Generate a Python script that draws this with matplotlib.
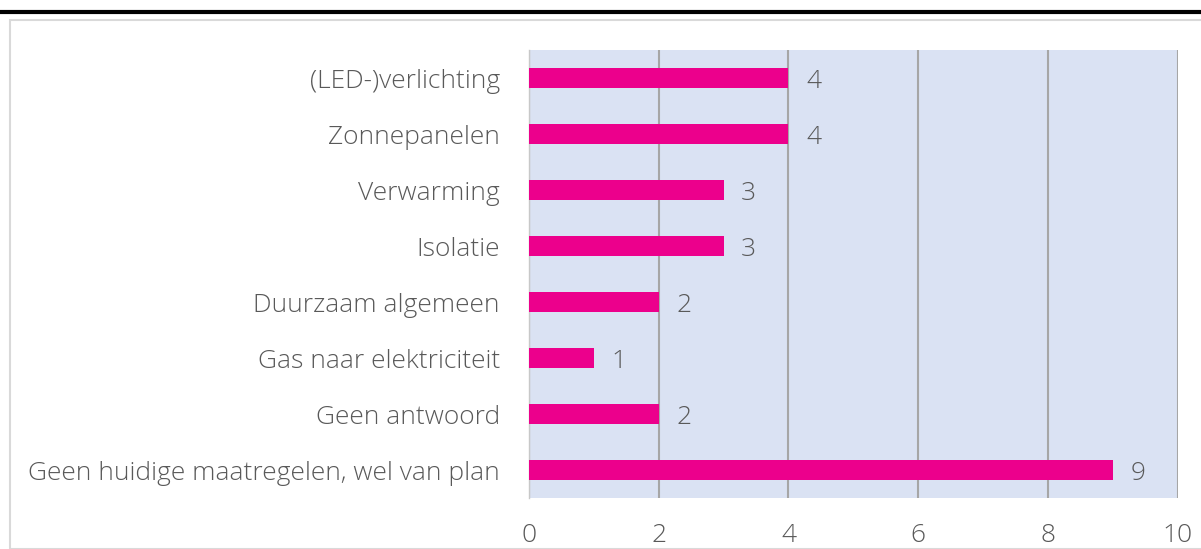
import matplotlib.pyplot as plt
from matplotlib.lines import Line2D
from matplotlib.patches import Rectangle

# data (top to bottom as shown)
categories = [
    '(LED-)verlichting',
    'Zonnepanelen',
    'Verwarming',
    'Isolatie',
    'Duurzaam algemeen',
    'Gas naar elektriciteit',
    'Geen antwoord',
    'Geen huidige maatregelen, wel van plan',
]
counts = [4, 4, 3, 3, 2, 1, 2, 9]
xticks = [0, 2, 4, 6, 8, 10]

plt.rcParams['font.family'] = ['Open Sans', 'DejaVu Sans']
text_color = '#595959'
fs = 19
W, H = 1201, 549

fig = plt.figure(figsize=(W / 100, H / 100), dpi=100)

# outer frame and the black rule on top
fig.patches.append(Rectangle((10 / W, 0), 1.2, 1 - 19.5 / H, transform=fig.transFigure,
                             fill=False, edgecolor='#d9d9d9', linewidth=1.5))
fig.lines.append(Line2D([2 / W, 1], [1 - 11.5 / H] * 2, transform=fig.transFigure,
                        color='black', linewidth=3))

x0, x1 = 529, 1177.7
y0, y1 = 50, 498
ax = fig.add_axes([x0 / W, 1 - y1 / H, (x1 - x0) / W, (y1 - y0) / H])
ax.set_facecolor('#dae2f3')

pos = list(range(len(categories)))
ax.barh(pos, counts, height=0.35, color='#ec008c', zorder=3)
for p, c in zip(pos, counts):
    ax.text(c + 0.27, p, str(c), va='center_baseline', ha='left', fontsize=fs,
            color=text_color, fontweight='light', zorder=4)

ax.set_ylim(len(categories) - 0.5, -0.5)
ax.set_xlim(0, 10)
ax.set_xticks(xticks)
ax.set_yticks(pos)
ax.set_yticklabels(categories, va='center_baseline')
ax.xaxis.grid(True, color='#a6a6a6', linewidth=1.5, zorder=1)
ax.set_axisbelow(True)
for s in ['top', 'right', 'bottom']:
    ax.spines[s].set_visible(False)
ax.spines['left'].set_color('#c8c8c8')
ax.spines['left'].set_linewidth(1)
ax.tick_params(length=0, labelsize=fs, labelcolor=text_color)
ax.tick_params(axis='y', pad=21)
ax.tick_params(axis='x', pad=18)
for lbl in ax.get_xticklabels() + ax.get_yticklabels():
    lbl.set_fontweight('light')

fig.savefig('out.png', dpi=100)
